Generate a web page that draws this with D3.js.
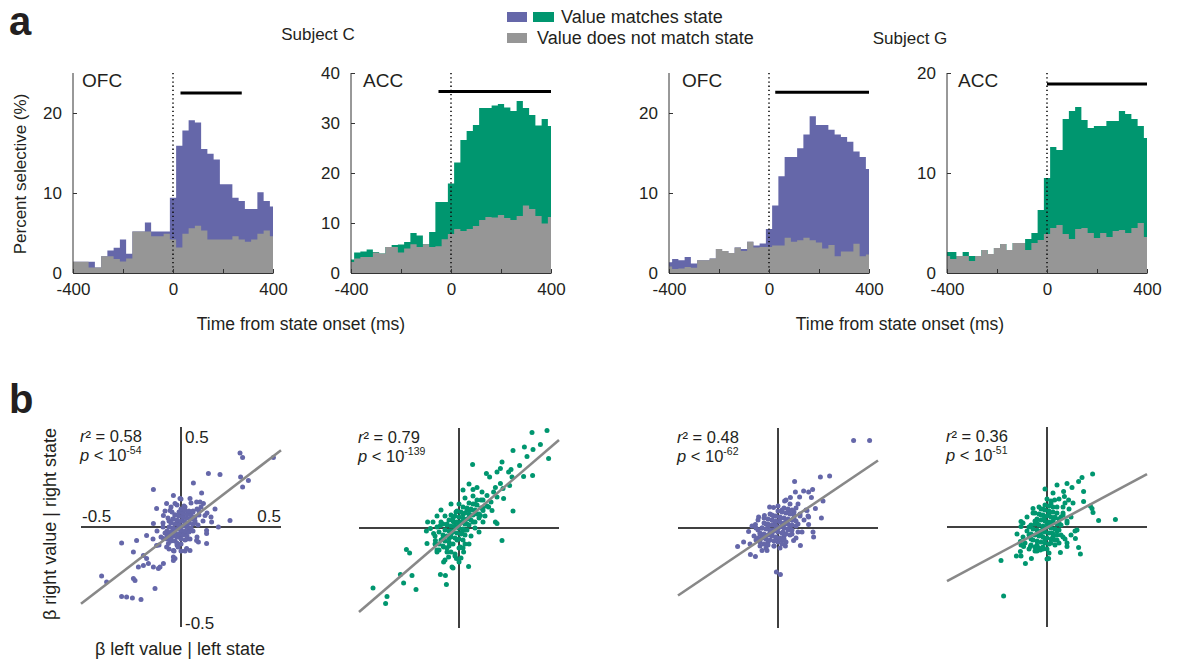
<!DOCTYPE html>
<html>
<head>
<meta charset="utf-8">
<script src="https://cdn.jsdelivr.net/npm/d3@7"></script>
<style>
body { margin: 0; background: #fff; }
svg text { font-family: "Liberation Sans", Arial, sans-serif; fill: #231f20; }
</style>
</head>
<body>
<svg width="1179" height="661"></svg>
<script>
// Value-coding histograms (a) and left/right beta scatter plots (b)

var BLUE = "#6567a9";
var GREEN = "#00966f";
var GRAY = "#969696";

// bin centres (ms from state onset)
var binCenters = [-400,-375,-350,-325,-300,-275,-250,-225,-200,-175,-150,-125,-100,-75,-50,-25,
	0,25,50,75,100,125,150,175,200,225,250,275,300,325,350,375,400];
var xTicks = [-400,-200,0,200,400];

// percent selective: total (coloured top) and "does not match" (gray)
var ofcC_total = [1.4,1.4,1.4,1.4,0.7,2.1,2.8,3.15,4.2,2.4,5.2,5.2,6.3,5.2,5.2,5.2,9.4,15.9,17.8,19.1,18.8,15.5,14.9,14.2,11.1,11.1,9.4,9.0,8.0,8.0,10.1,9.0,8.3];
var ofcC_gray  = [1.4,1.4,1.4,0.7,0.7,2.1,2.1,1.75,1.45,1.8,5.2,5.2,5.2,4.6,4.6,4.9,4.2,3.2,4.9,5.6,5.9,5.3,4.2,4.2,4.2,4.2,4.6,4.2,3.9,4.2,4.9,5.3,4.6];
var accC_total = [2.7,4.1,4.3,4.7,4.2,3.9,5.2,5.6,5.7,6.2,8.0,7.5,5.75,8.2,14.2,14.2,17.9,22.1,26.6,28.4,29.6,33.0,33.0,33.5,33.8,33.1,32.4,34.4,33.0,31.6,29.5,30.8,29.4];
var accC_gray  = [2.2,2.9,3.2,3.2,4.1,3.9,5.2,5.2,4.1,4.9,5.75,5.2,5.75,5.2,5.35,6.75,7.8,8.8,8.4,8.8,9.4,10.6,11.2,11.1,11.6,11.0,10.6,11.4,13.5,12.8,11.4,9.9,11.2];
var ofcG_total = [1.33,1.75,1.6,2.0,1.2,1.6,1.6,1.8,3.0,2.75,2.5,3.2,3.0,3.9,3.45,3.7,5.5,8.45,12.1,14.5,14.5,15.6,17.3,19.6,18.5,18.5,17.9,17.3,17.0,16.4,15.2,14.5,13.0];
var ofcG_gray  = [0.8,0.5,0.55,0.75,0.65,1.6,1.6,1.8,3.0,2.75,2.5,3.2,2.75,3.9,3.2,3.25,3.25,3.45,3.45,4.4,3.9,4.1,4.4,4.1,3.8,3.05,3.5,2.1,2.7,2.7,3.65,2.1,2.3];
var accG_total = [2.1,2.1,1.7,2.1,1.7,1.7,2.3,1.9,2.5,2.9,2.3,3.0,3.0,3.4,4.0,6.3,9.5,12.6,12.3,15.4,16.2,16.6,15.3,14.5,14.7,14.7,15.2,15.2,16.2,15.9,15.4,14.7,13.5];
var accG_gray  = [1.7,1.4,1.7,1.7,1.2,1.7,2.3,1.9,2.5,2.9,2.3,3.0,3.0,2.3,3.0,3.3,3.9,4.5,4.8,3.9,3.4,4.4,4.5,4.0,3.5,4.0,3.6,4.2,4.3,4.0,4.5,5.0,3.6];

// significance bars [start ms, end ms, level %]
var ofcC_sig = [30, 275, 22.5];
var accC_sig = [-50, 400, 36.3];
var ofcG_sig = [25, 400, 22.6];
var accG_sig = [0, 400, 18.9];

// beta right | right state vs beta left | left state, one point per cell
var ofcC_beta = [[0.295,0.37],[0.308,0.347],[0.462,0.347],[0.137,0.267],[0.195,0.263],[0.298,0.25],[0.337,0.233],[0.308,0.2],[-0.138,0.188],[-0.005,0.142],[0.045,0.142],[0.095,0.125],[-0.122,0.092],[0.245,0.033],[0.187,0],[0.128,-0.017],[-0.138,0.017],[-0.297,-0.08],[-0.222,-0.067],[-0.172,-0.042],[-0.122,-0.092],[-0.072,-0.1],[-0.038,-0.117],[0.045,-0.117],[0.087,-0.075],[-0.238,-0.125],[-0.188,-0.142],[-0.172,-0.158],[-0.163,-0.183],[-0.138,-0.2],[-0.113,-0.208],[-0.213,-0.2],[-0.188,-0.192],[-0.238,-0.258],[-0.23,-0.267],[-0.397,-0.245],[-0.372,-0.275],[-0.13,-0.308],[-0.297,-0.347],[-0.272,-0.35],[-0.243,-0.355],[-0.2,-0.363],[-0.038,-0.167],[-0.088,-0.183],[-0.038,-0.15],
	[0.062,0.22],[0.103,0.17],[0.078,0.125],[0.112,0.117],[-0.038,0.158],[-0.072,0.117],[-0.03,0.117],[-0.055,0.083],[-0.088,0.058],[0.12,0.058],[0.153,0.025],[0.128,-0.033],[0.078,-0.067],[0.128,-0.083],[-0.063,-0.083],[-0.03,-0.158],[0.028,-0.108],[-0.088,-0.058],[-0.105,-0.2],
	[-0.02,0.02],[0.01,0.03],[0.03,0.01],[-0.04,-0.01],[0.02,-0.03],[-0.01,-0.05],[0.05,0.04],[-0.06,0.03],[0.04,0.07],[-0.03,0.06],[0.07,0.02],[-0.07,-0.04],[0.0,0.08],[0.06,-0.02],[-0.05,-0.07],[0.02,0.1],[-0.09,0.0],[0.09,0.06],[-0.02,-0.09],[0.03,-0.06],[0.08,0.09],[-0.1,-0.05],[0.0,-0.02],[-0.04,0.04],[0.05,0.12],[-0.08,0.08],[0.11,0.03],[-0.06,-0.11],[0.01,0.05],[-0.01,0.0],[0.04,-0.01],[-0.03,-0.03],[0.06,0.08],[-0.12,-0.02],[0.13,0.07],[-0.05,0.1],[0.02,-0.12],[0.08,-0.05],[-0.11,-0.09],[0.1,0.1],[0.15,0.05],[0.17,0.09],[-0.14,-0.06],[0.0,0.14],[-0.02,0.11],
	[-0.07,-0.06],[-0.05,-0.06],[-0.03,-0.07],[-0.06,-0.04],[-0.04,-0.045],[-0.02,-0.05],[0.0,-0.06],[-0.07,-0.02],[-0.05,-0.025],[-0.03,-0.03],[-0.01,-0.035],[0.01,-0.04],[0.03,-0.045],[-0.06,0.0],[-0.04,-0.005],[-0.02,-0.01],[0.0,-0.015],[0.02,-0.02],[0.04,-0.025],[-0.05,0.02],[-0.03,0.015],[-0.01,0.01],[0.01,0.005],[0.03,0.0],[0.05,-0.005],[-0.04,0.04],[-0.02,0.035],[0.0,0.03],[0.02,0.025],[0.04,0.02],[0.06,0.015],[-0.03,0.06],[-0.01,0.055],[0.01,0.05],[0.03,0.045],[0.05,0.04],[-0.01,0.075],[0.01,0.07],[0.03,0.065],[0.05,0.06],[0.07,0.05],[0.0,0.09],[0.02,0.085],[0.04,0.08],[-0.02,-0.08],[0.0,-0.085],[0.02,-0.065],[-0.08,-0.03],[0.07,0.03],[0.06,0.075],[-0.015,-0.1],[-0.045,0.075],[0.015,0.105],[-0.09,0.02],[0.085,0.01],[-0.035,-0.12],[0.0,-0.12],[0.045,-0.06],[-0.065,0.045],[0.09,0.08]];
var accC_beta = [[0.365,0.477],[0.44,0.488],[0.407,0.417],[0.448,0.347],[0.27,0.388],[0.327,0.405],[0.37,0.392],[0.34,0.358],[0.303,0.313],[0.26,0.292],[0.248,0.28],[0.215,0.33],[0.207,0.297],[0.19,0.28],[0.068,0.318],[0.137,0.272],[0.153,0.255],[0.265,0.255],[0.323,0.258],[0.368,0.263],[0.253,0.213],[0.22,0.197],[0.182,0.202],[0.207,0.222],[0.09,0.202],[0.07,0.192],[0.115,0.18],[0.14,0.163],[0.173,0.18],[0.223,0.147],[0.19,0.155],[0.16,0.13],[0.148,0.105],[0.165,0.088],[0.12,0.088],[0.107,0.063],[0.27,0.085],[0.182,0.03],[0.19,0.022],[0.215,-0.062],[-0.157,0.03],[-0.143,-0.003],[-0.163,-0.015],[-0.127,-0.028],[-0.11,0.005],[-0.093,0.013],[-0.263,-0.107],[-0.247,-0.125],[-0.11,-0.12],[-0.077,-0.095],[-0.16,-0.078],[-0.118,-0.062],[-0.077,-0.17],[-0.052,-0.145],[-0.035,-0.195],[-0.013,-0.153],[0.007,-0.095],[0.023,-0.12],[0.048,-0.192],[-0.068,-0.237],[-0.093,-0.232],[-0.063,-0.283],[-0.293,-0.232],[-0.235,-0.237],[-0.277,-0.275],[-0.215,-0.307],[-0.43,-0.3],[-0.36,-0.342],[-0.367,-0.378],
	[-0.02,0.01],[0.01,0.03],[0.03,-0.01],[-0.04,-0.03],[0.05,0.05],[-0.06,0.02],[0.02,0.07],[-0.01,-0.06],[0.07,0.03],[-0.08,-0.05],[0.04,0.09],[-0.03,0.05],[0.09,0.07],[-0.1,-0.02],[0.0,0.12],[-0.05,-0.09],[0.06,-0.04],[0.11,0.1],[-0.07,0.06],[0.02,-0.1],[0.08,0.12],[-0.12,-0.08],[0.13,0.06],[-0.02,-0.13],[0.03,0.15],[-0.09,0.09],[0.1,-0.02],[-0.13,0.03],[0.05,-0.08],[-0.04,0.12],[0.12,0.14],[-0.06,-0.12],[0.0,0.0],[0.015,-0.02],[-0.025,0.03],[0.04,0.02],[-0.05,-0.05],[0.06,0.09],[-0.015,0.08],[0.08,0.0],[-0.1,-0.11],[0.14,0.11],[-0.08,0.02],[0.03,0.04],[-0.035,-0.015],[0.07,0.16],[0.1,0.05],[-0.11,0.06],[0.01,-0.15],[-0.03,-0.2],[0.0,-0.17],[0.02,0.19],[0.05,0.22],[-0.07,-0.16],[0.09,0.14],[0.12,0.03],
	[-0.1,-0.08],[-0.08,-0.09],[-0.06,-0.1],[-0.09,-0.06],[-0.07,-0.065],[-0.05,-0.07],[-0.03,-0.08],[-0.08,-0.035],[-0.06,-0.04],[-0.04,-0.045],[-0.02,-0.05],[0.0,-0.055],[0.02,-0.06],[-0.07,-0.01],[-0.05,-0.015],[-0.03,-0.02],[-0.01,-0.025],[0.01,-0.03],[0.03,-0.035],[-0.06,0.015],[-0.04,0.01],[-0.02,0.005],[0.0,0.02],[0.02,-0.005],[0.04,-0.01],[-0.05,0.04],[-0.03,0.035],[-0.01,0.03],[0.01,0.025],[0.03,0.02],[0.05,0.015],[-0.04,0.065],[-0.02,0.06],[0.0,0.055],[0.02,0.05],[0.04,0.045],[0.06,0.04],[-0.01,0.085],[0.01,0.08],[0.03,0.075],[0.05,0.07],[0.07,0.065],[0.02,0.105],[0.04,0.1],[0.06,0.095],[0.08,0.09],[0.05,0.125],[0.07,0.12],[0.09,0.115],[0.1,0.07],[-0.11,-0.11],[-0.04,-0.12],[-0.09,0.03],[0.08,0.03],[0.0,-0.1],[-0.02,-0.14],[0.03,-0.08],[-0.12,-0.04],[0.11,0.14],[0.12,0.1]];
var ofcG_beta = [[0.378,0.438],[0.458,0.438],[0.212,0.255],[0.258,0.26],[0.083,0.233],[0.173,0.193],[0.153,0.18],[0.128,0.185],[0.087,0.18],[0.108,0.155],[0.167,0.152],[0.225,0.135],[0.062,0.152],[0.033,0.135],[0.187,0.097],[0.145,0.088],[0.217,0.05],[0.153,0.055],[0.153,0.018],[0.175,-0.02],[0.178,-0.045],[-0.097,0.055],[-0.113,0.018],[-0.147,-0.017],[-0.202,-0.092],[-0.172,-0.07],[-0.138,-0.132],[-0.113,-0.142],[-0.08,-0.112],[-0.055,-0.112],[0.037,-0.09],[0.112,-0.087],[0.078,-0.062],[-0.008,-0.22],[0.012,-0.233],[-0.042,0.105],[-0.022,0.102],[-0.068,0.063],
	[0,0],[0.02,0.01],[-0.02,-0.01],[0.04,0.03],[-0.04,-0.02],[0.01,0.05],[-0.01,-0.05],[0.06,0.01],[-0.06,0.02],[0.03,-0.04],[-0.03,0.04],[0.08,0.05],[-0.08,-0.05],[0.05,0.08],[-0.05,-0.07],[0.1,0.02],[-0.1,-0.01],[0.02,0.09],[-0.02,-0.09],[0.07,-0.03],[-0.07,0.05],[0.11,0.07],[-0.11,-0.06],[0.04,-0.07],[-0.04,0.07],[0.09,0.1],[-0.09,-0.09],[0.13,0.04],[-0.13,0.01],[0.0,0.11],[0.01,-0.1],[0.06,0.12],[-0.06,-0.1],[0.12,-0.02],[-0.12,-0.04],[0.03,0.02],[-0.03,-0.03],[0.05,-0.01],[-0.05,0.01],[0.08,0.08],[-0.08,0.0],[0.1,0.12],[0.14,0.09],[-0.1,0.04],[0.07,0.04],[-0.015,0.025],[0.025,-0.02],[0.09,-0.05],[-0.09,-0.03],[0.15,0.06],[0.04,0.14],[-0.14,-0.08],[-0.02,0.06],[0.02,-0.06],
	[-0.09,-0.07],[-0.07,-0.08],[-0.05,-0.085],[-0.08,-0.05],[-0.06,-0.055],[-0.04,-0.06],[-0.02,-0.065],[0.0,-0.07],[-0.09,-0.025],[-0.07,-0.03],[-0.05,-0.035],[-0.03,-0.04],[-0.01,-0.045],[0.01,-0.05],[0.03,-0.055],[-0.08,0.0],[-0.06,-0.005],[-0.04,-0.01],[-0.02,-0.015],[0.0,-0.02],[0.02,-0.025],[0.04,-0.03],[0.06,-0.035],[-0.07,0.025],[-0.05,0.02],[-0.03,0.015],[-0.01,0.01],[0.01,0.005],[0.03,0.0],[0.05,-0.005],[0.07,-0.01],[-0.05,0.045],[-0.03,0.04],[-0.01,0.035],[0.01,0.03],[0.03,0.025],[0.05,0.02],[0.07,0.015],[0.09,0.01],[-0.03,0.065],[-0.01,0.06],[0.01,0.055],[0.03,0.05],[0.05,0.045],[0.07,0.04],[0.09,0.035],[0.0,0.085],[0.02,0.08],[0.04,0.075],[0.06,0.07],[0.08,0.065],[0.03,0.1],[0.05,0.095],[0.07,0.09],[-0.1,-0.05],[0.1,-0.02],[-0.02,-0.09],[0.02,-0.08],[-0.11,0.0],[0.11,0.06]];
var accG_beta = [[0.228,0.265],[0.175,0.248],[0.158,0.227],[0.1,0.218],[0.05,0.21],[0.125,0.198],[0.183,0.177],[0.083,0.177],[0.087,0.152],[0.108,0.135],[0.038,0.135],[0.183,0.127],[0.225,0.093],[0.217,0.105],[0.23,0.073],[0.258,0.032],[0.342,0.038],[-0.07,0.092],[-0.13,0.027],[-0.13,0.002],[-0.15,-0.035],[-0.133,-0.073],[-0.117,-0.098],[-0.083,-0.098],[-0.133,-0.123],[-0.153,-0.145],[-0.13,-0.145],[-0.108,-0.182],[-0.078,-0.157],[-0.23,-0.168],[-0.217,-0.345],[0.008,-0.157],[0.05,-0.065],[0.1,-0.098],[0.158,-0.103],[0.167,-0.135],[0.15,-0.015],[0.142,-0.057],[0.067,-0.128],[-0.033,-0.115],
	[0,0],[0.02,0.02],[-0.02,-0.01],[0.04,0.05],[-0.04,-0.03],[0.01,0.07],[-0.01,-0.06],[0.06,0.02],[-0.06,0.03],[0.03,-0.05],[-0.03,0.06],[0.08,0.07],[-0.08,-0.06],[0.05,0.1],[-0.05,-0.09],[0.1,0.03],[-0.1,-0.02],[0.02,0.12],[-0.02,-0.11],[0.07,-0.04],[-0.07,0.07],[0.11,0.09],[-0.11,-0.08],[0.04,-0.09],[-0.04,0.1],[0.09,0.12],[-0.09,-0.11],[0.12,0.05],[-0.12,0.02],[0.0,0.14],[0.01,-0.13],[0.06,0.14],[-0.06,-0.12],[0.12,-0.04],[-0.12,-0.05],[0.03,0.03],[-0.03,-0.04],[0.05,-0.02],[-0.05,0.02],[0.08,0.1],[-0.08,0.01],[0.1,-0.08],[0.13,0.12],[-0.1,0.05],[0.07,0.05],[-0.015,0.04],[0.025,-0.03],[0.09,-0.06],[-0.09,-0.04],[0.14,-0.02],[0.03,0.17],[-0.13,-0.09],[-0.02,0.09],[0.02,-0.08],[0.0,-0.16],[-0.01,0.19],
	[-0.08,-0.09],[-0.06,-0.1],[-0.04,-0.105],[-0.02,-0.1],[-0.07,-0.065],[-0.05,-0.07],[-0.03,-0.075],[-0.01,-0.08],[0.01,-0.085],[-0.08,-0.035],[-0.06,-0.04],[-0.04,-0.045],[-0.02,-0.05],[0.0,-0.055],[0.02,-0.06],[0.04,-0.065],[-0.07,-0.01],[-0.05,-0.015],[-0.03,-0.02],[-0.01,-0.025],[0.01,-0.03],[0.03,-0.035],[0.05,-0.04],[-0.06,0.015],[-0.04,0.01],[-0.02,0.005],[0.0,0.02],[0.02,-0.005],[0.04,-0.01],[0.06,-0.015],[-0.05,0.04],[-0.03,0.035],[-0.01,0.03],[0.01,0.025],[0.03,0.02],[0.05,0.015],[0.07,0.01],[-0.04,0.065],[-0.02,0.06],[0.0,0.055],[0.02,0.05],[0.04,0.045],[0.06,0.04],[-0.03,0.09],[-0.01,0.085],[0.01,0.08],[0.03,0.075],[0.05,0.07],[-0.01,0.11],[0.01,0.105],[0.03,0.1],[0.08,0.06],[-0.09,0.0],[0.08,-0.05],[0.06,-0.08],[-0.05,-0.12],[0.0,-0.11],[-0.06,0.07],[0.02,0.13],[0.1,0.02]];

// regression fits [slope, intercept], r2 and p exponent
var fitSlope = [0.767, 0.86, 0.675, 0.535];
var fitIntercept = [0, 0.01, 0, -0.003];
var r2Labels = ["0.58", "0.79", "0.48", "0.36"];
var pExponents = ["-54", "-139", "-62", "-51"];


var svg = d3.select("svg");
svg.append("rect").attr("width", 1179).attr("height", 661).attr("fill", "#fff");

function draw_hist(p){
	var x = d3.scaleLinear().domain([-400, 400]).range([p.left, p.left + 200]);
	var y = d3.scaleLinear().domain([0, p.ymax]).range([273, 73]);
	var g = svg.append("g");

	// step outline: left edge of each bin, last bin closed at 400
	var pts = binCenters.map((c, i) => ({e: Math.max(c - 12.5, -400), v: p.total[i], g: p.gray[i]}));
	pts.push({e: 400, v: p.total[p.total.length - 1], g: p.gray[p.gray.length - 1]});
	var area = d3.area().curve(d3.curveStepAfter).x(d => x(d.e)).y0(y(0));
	g.append("path").attr("d", area.y1(d => y(d.v))(pts)).attr("fill", p.color);
	g.append("path").attr("d", area.y1(d => y(d.g))(pts)).attr("fill", GRAY);

	// onset marker
	g.append("line")
		.attr("x1", x(0)).attr("x2", x(0))
		.attr("y1", y(p.ymax)).attr("y2", y(0))
		.attr("stroke", "#111").attr("stroke-width", 1.6)
		.attr("stroke-dasharray", "1.3,2.9");

	// significance bar
	g.append("line")
		.attr("x1", x(p.sig[0])).attr("x2", x(p.sig[1]))
		.attr("y1", y(p.sig[2])).attr("y2", y(p.sig[2]))
		.attr("stroke", "#000").attr("stroke-width", 3);

	var yAxis = g.append("g")
		.attr("transform", "translate(" + x(-400) + ",0)")
		.call(d3.axisLeft(y).tickValues(p.yticks).tickSizeInner(-4).tickSizeOuter(0).tickPadding(11))
		.attr("font-size", 17).attr("color", "#333");
	yAxis.select(".domain").attr("d", "M0," + y(p.ymax) + "V" + y(0));

	g.append("g")
		.attr("transform", "translate(0," + y(0) + ")")
		.call(d3.axisBottom(x).tickValues(xTicks).tickSizeInner(-4).tickSizeOuter(0).tickPadding(10)
			.tickFormat(d => d % 400 === 0 ? d : ""))
		.attr("font-size", 17).attr("color", "#333");

	g.append("text")
		.attr("x", x(-400) + p.labelDx).attr("y", 87)
		.attr("font-size", 19)
		.text(p.label);
}

function draw_scatter(points, i, cx, cy, color){
	var x = d3.scaleLinear().domain([-0.5, 0.5]).range([cx - 100, cx + 100]);
	var y = d3.scaleLinear().domain([-0.5, 0.5]).range([cy + 100, cy - 100]);
	var g = svg.append("g");

	g.append("line").attr("x1", x(-0.5)).attr("x2", x(0.5)).attr("y1", y(0)).attr("y2", y(0))
		.attr("stroke", "#000").attr("stroke-width", 1.5);
	g.append("line").attr("x1", x(0)).attr("x2", x(0)).attr("y1", y(0.5)).attr("y2", y(-0.5))
		.attr("stroke", "#000").attr("stroke-width", 1.5);

	g.selectAll("circle")
		.data(points)
		.enter().append("circle")
		.attr("cx", d => x(d[0]))
		.attr("cy", d => y(d[1]))
		.attr("r", 2.5)
		.attr("fill", color);

	g.append("line")
		.attr("x1", x(-0.5)).attr("y1", y(-0.5 * fitSlope[i] + fitIntercept[i]))
		.attr("x2", x(0.5)).attr("y2", y(0.5 * fitSlope[i] + fitIntercept[i]))
		.attr("stroke", "#888").attr("stroke-width", 2.6);

	var r2 = g.append("text").attr("x", x(-0.5) - 1).attr("y", y(0.5) + 15).attr("font-size", 16.5);
	r2.append("tspan").attr("font-style", "italic").text("r");
	r2.append("tspan").text("\u00b2 = " + r2Labels[i]);
	var pt = g.append("text").attr("x", x(-0.5) - 1).attr("y", y(0.5) + 34).attr("font-size", 16.5);
	pt.append("tspan").attr("font-style", "italic").text("p");
	pt.append("tspan").text(" < 10");
	pt.append("tspan").attr("font-size", 10.5).attr("dy", -7).text(pExponents[i]);

	return {x: x, y: y, g: g};
}

// panel letters, titles, legend
svg.append("text").attr("x", 9).attr("y", 35).attr("font-size", 40).attr("font-weight", "bold").text("a");
svg.append("text").attr("x", 9).attr("y", 413).attr("font-size", 40).attr("font-weight", "bold").text("b");
svg.append("text").attr("x", 318).attr("y", 40).attr("font-size", 17).attr("text-anchor", "middle").text("Subject C");
svg.append("text").attr("x", 910).attr("y", 44).attr("font-size", 17).attr("text-anchor", "middle").text("Subject G");

svg.append("rect").attr("x", 507).attr("y", 12).attr("width", 20).attr("height", 10).attr("fill", BLUE);
svg.append("rect").attr("x", 533).attr("y", 12).attr("width", 21).attr("height", 10).attr("fill", GREEN);
svg.append("text").attr("x", 561).attr("y", 23).attr("font-size", 18).text("Value matches state");
svg.append("rect").attr("x", 507).attr("y", 33).attr("width", 20).attr("height", 10).attr("fill", GRAY);
svg.append("text").attr("x", 537).attr("y", 44).attr("font-size", 18).text("Value does not match state");

draw_hist({left: 73, ymax: 25, yticks: [0, 10, 20], label: "OFC", labelDx: 9, total: ofcC_total, gray: ofcC_gray, color: BLUE, sig: ofcC_sig});
draw_hist({left: 351, ymax: 40, yticks: [0, 10, 20, 30, 40], label: "ACC", labelDx: 12, total: accC_total, gray: accC_gray, color: GREEN, sig: accC_sig});
draw_hist({left: 669, ymax: 25, yticks: [0, 10, 20], label: "OFC", labelDx: 13, total: ofcG_total, gray: ofcG_gray, color: BLUE, sig: ofcG_sig});
draw_hist({left: 947, ymax: 20, yticks: [0, 10, 20], label: "ACC", labelDx: 11, total: accG_total, gray: accG_gray, color: GREEN, sig: accG_sig});

svg.append("text").attr("transform", "translate(26,174) rotate(-90)")
	.attr("font-size", 17).attr("text-anchor", "middle").text("Percent selective (%)");
svg.append("text").attr("x", 301).attr("y", 330).attr("font-size", 17.5).attr("text-anchor", "middle").text("Time from state onset (ms)");
svg.append("text").attr("x", 900).attr("y", 330).attr("font-size", 17.5).attr("text-anchor", "middle").text("Time from state onset (ms)");

var s1 = draw_scatter(ofcC_beta, 0, 181, 527, BLUE);
draw_scatter(accC_beta, 1, 459, 528, GREEN);
draw_scatter(ofcG_beta, 2, 778, 528, BLUE);
draw_scatter(accG_beta, 3, 1047, 527, GREEN);

// tick labels on the first scatter only
s1.g.append("text").attr("x", s1.x(0) + 4).attr("y", s1.y(0.5) + 16).attr("font-size", 17).text("0.5");
s1.g.append("text").attr("x", s1.x(0) + 4).attr("y", s1.y(-0.5) + 2).attr("font-size", 17).text("-0.5");
s1.g.append("text").attr("x", s1.x(-0.5) + 1).attr("y", s1.y(0) - 5).attr("font-size", 17).text("-0.5");
s1.g.append("text").attr("x", s1.x(0.5)).attr("y", s1.y(0) - 5).attr("font-size", 17).attr("text-anchor", "end").text("0.5");

svg.append("text").attr("transform", "translate(56,524) rotate(-90)")
	.attr("font-size", 18).attr("text-anchor", "middle").text("\u03b2 right value | right state");
svg.append("text").attr("x", 180).attr("y", 655).attr("font-size", 18).attr("text-anchor", "middle").text("\u03b2 left value | left state");
</script>
</body>
</html>
